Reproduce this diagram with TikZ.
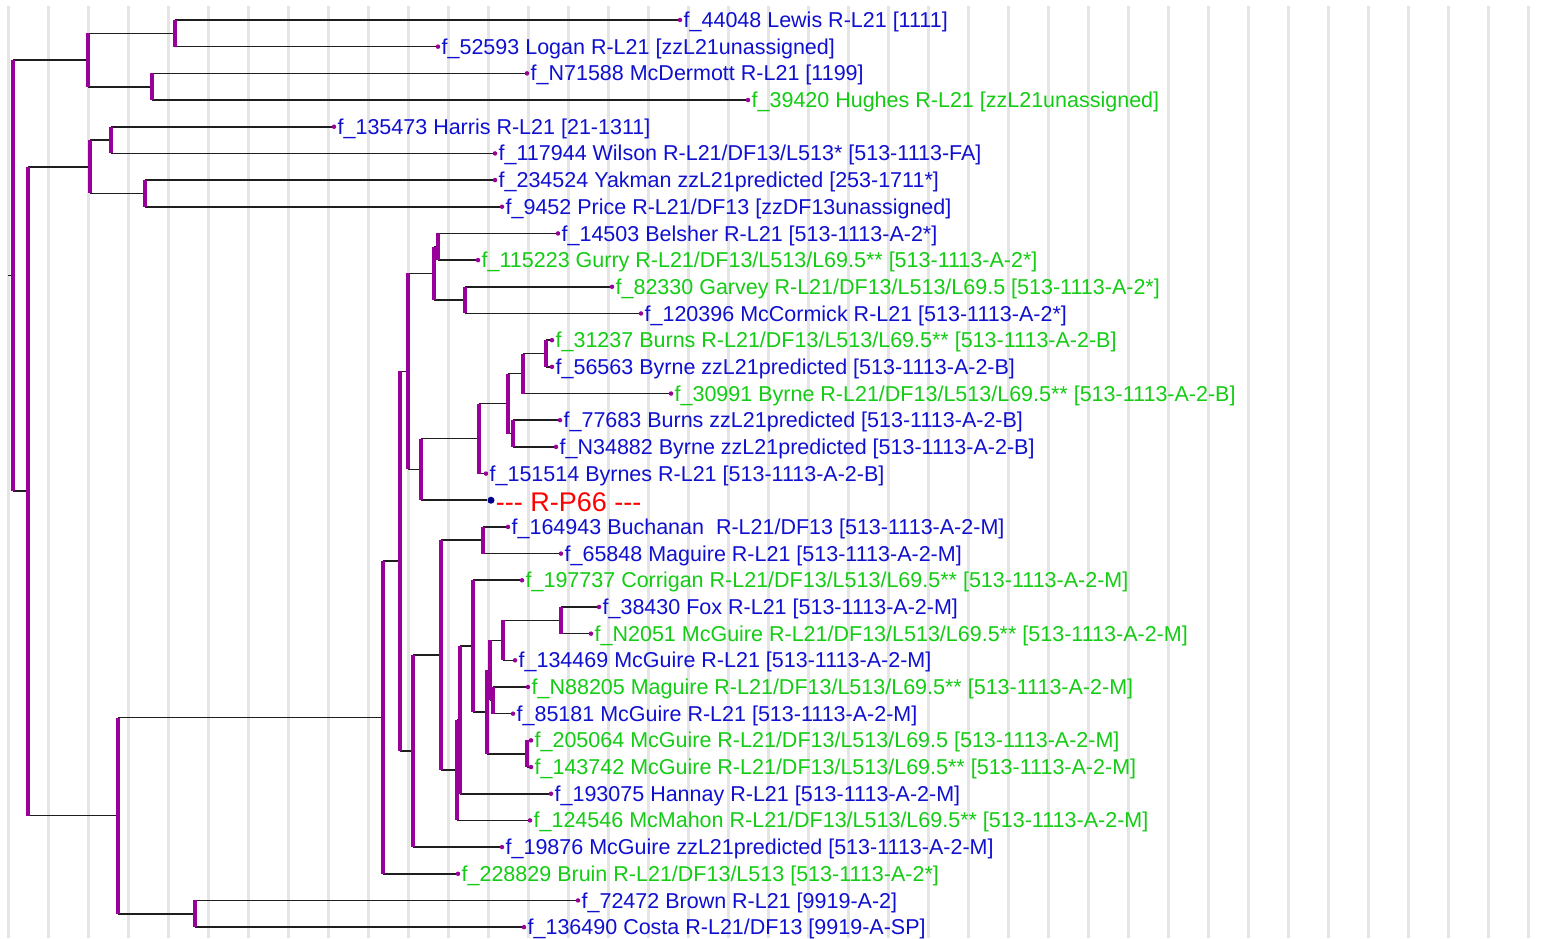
\documentclass[tikz,border=0pt]{standalone}
\usepackage{fontspec}
\setmainfont{Liberation Sans}
\usetikzlibrary{calc}

\definecolor{leafblue}{RGB}{16,16,208}
\definecolor{leafgreen}{RGB}{20,204,20}
\definecolor{treepurple}{RGB}{153,0,153}
\definecolor{armgray}{RGB}{30,30,30}
\definecolor{dotnavy}{RGB}{0,0,140}

\newcommand\leaffont{\fontsize{21.5pt}{24pt}\selectfont}
\newcommand\markfont{\fontsize{27pt}{30pt}\selectfont}

\tikzset{
  gridline/.style={line width=3pt, gray!20},
  arm/.style={line width=1.6pt, armgray},
  stem/.style={line width=3.6pt, treepurple},
  tip/.style={circle, fill=treepurple, inner sep=0pt, minimum size=4.5pt},
  leaflabel/.style={font=\leaffont, inner sep=1pt, label distance=0pt, yshift=-2pt},
}

% leaf: name, x, row, colour, text
\newcommand\leaf[5]{\node[tip, label={[leaflabel, text=#4]right:{#5}}] (#1) at (#2,#3) {};}
% fork: name, x, upper child, lower child
\newcommand\fork[4]{%
  \path let \p1=(#3), \p2=(#4) in coordinate (#1) at (#2pt,{0.5*\y1+0.5*\y2});
  \coordinate (#1-top) at (#1 |- #3);
  \coordinate (#1-bot) at (#1 |- #4);
  \draw[arm] (#1-top) -- (#3);
  \draw[arm] (#1-bot) -- (#4);
}

\begin{document}
\begin{tikzpicture}[x=1pt, y=-26.68pt]
  \path[use as bounding box, fill=white] (0,0.2504) rectangle (1562,35.408);
  \foreach \k in {0,...,38}
    \draw[gridline] (8.3+40*\k,0.475) -- (8.3+40*\k,35.408);

  \leaf{t1}{680}{1}{leafblue}{f\_44048 Lewis R-L21 [1111]}
  \leaf{t2}{438}{2}{leafblue}{f\_52593 Logan R-L21 [zzL21unassigned]}
  \leaf{t3}{527}{3}{leafblue}{f\_N71588 McDermott R-L21 [1199]}
  \leaf{t4}{748}{4}{leafgreen}{f\_39420 Hughes R-L21 [zzL21unassigned]}
  \leaf{t5}{334}{5}{leafblue}{f\_135473 Harris R-L21 [21-1311]}
  \leaf{t6}{495}{6}{leafblue}{f\_117944 Wilson R-L21/DF13/L513* [513-1113-FA]}
  \leaf{t7}{495}{7}{leafblue}{f\_234524 Yakman zzL21predicted [253-1711*]}
  \leaf{t8}{502}{8}{leafblue}{f\_9452 Price R-L21/DF13 [zzDF13unassigned]}
  \leaf{t9}{558}{9}{leafblue}{f\_14503 Belsher R-L21 [513-1113-A-2*]}
  \leaf{t10}{478}{10}{leafgreen}{f\_115223 Gurry R-L21/DF13/L513/L69.5** [513-1113-A-2*]}
  \leaf{t11}{612}{11}{leafgreen}{f\_82330 Garvey R-L21/DF13/L513/L69.5 [513-1113-A-2*]}
  \leaf{t12}{641}{12}{leafblue}{f\_120396 McCormick R-L21 [513-1113-A-2*]}
  \leaf{t13}{552}{13}{leafgreen}{f\_31237 Burns R-L21/DF13/L513/L69.5** [513-1113-A-2-B]}
  \leaf{t14}{552}{14}{leafblue}{f\_56563 Byrne zzL21predicted [513-1113-A-2-B]}
  \leaf{t15}{671}{15}{leafgreen}{f\_30991 Byrne R-L21/DF13/L513/L69.5** [513-1113-A-2-B]}
  \leaf{t16}{560}{16}{leafblue}{f\_77683 Burns zzL21predicted [513-1113-A-2-B]}
  \leaf{t17}{556}{17}{leafblue}{f\_N34882 Byrne zzL21predicted [513-1113-A-2-B]}
  \leaf{t18}{486}{18}{leafblue}{f\_151514 Byrnes R-L21 [513-1113-A-2-B]}
  \node[tip, fill=dotnavy, minimum size=7pt,
        label={[leaflabel, font=\markfont, text=red]right:{-{}-{}- R-P66 -{}-{}-}}] (rp66) at (491,19) {};
  \leaf{t20}{508}{20}{leafblue}{f\_164943 Buchanan\ \ R-L21/DF13 [513-1113-A-2-M]}
  \leaf{t21}{561}{21}{leafblue}{f\_65848 Maguire R-L21 [513-1113-A-2-M]}
  \leaf{t22}{522}{22}{leafgreen}{f\_197737 Corrigan R-L21/DF13/L513/L69.5** [513-1113-A-2-M]}
  \leaf{t23}{599}{23}{leafblue}{f\_38430 Fox R-L21 [513-1113-A-2-M]}
  \leaf{t24}{591}{24}{leafgreen}{f\_N2051 McGuire R-L21/DF13/L513/L69.5** [513-1113-A-2-M]}
  \leaf{t25}{515}{25}{leafblue}{f\_134469 McGuire R-L21 [513-1113-A-2-M]}
  \leaf{t26}{528}{26}{leafgreen}{f\_N88205 Maguire R-L21/DF13/L513/L69.5** [513-1113-A-2-M]}
  \leaf{t27}{513}{27}{leafblue}{f\_85181 McGuire R-L21 [513-1113-A-2-M]}
  \leaf{t28}{531}{28}{leafgreen}{f\_205064 McGuire R-L21/DF13/L513/L69.5 [513-1113-A-2-M]}
  \leaf{t29}{531}{29}{leafgreen}{f\_143742 McGuire R-L21/DF13/L513/L69.5** [513-1113-A-2-M]}
  \leaf{t30}{551}{30}{leafblue}{f\_193075 Hannay R-L21 [513-1113-A-2-M]}
  \leaf{t31}{530}{31}{leafgreen}{f\_124546 McMahon R-L21/DF13/L513/L69.5** [513-1113-A-2-M]}
  \leaf{t32}{502}{32}{leafblue}{f\_19876 McGuire zzL21predicted [513-1113-A-2-M]}
  \leaf{t33}{458}{33}{leafgreen}{f\_228829 Bruin R-L21/DF13/L513 [513-1113-A-2*]}
  \leaf{t34}{578}{34}{leafblue}{f\_72472 Brown R-L21 [9919-A-2]}
  \leaf{t35}{524}{35}{leafblue}{f\_136490 Costa R-L21/DF13 [9919-A-SP]}

  % inner forks, from the tips inwards
  \fork{nA}{175}{t1}{t2}
  \fork{nB}{152}{t3}{t4}
  \fork{nAB}{88}{nA}{nB}
  \fork{nC1}{111}{t5}{t6}
  \fork{nC2}{145}{t7}{t8}
  \fork{nC}{90}{nC1}{nC2}
  \fork{nK}{438}{t9}{t10}
  \fork{nL}{465}{t11}{t12}
  \fork{nI}{434}{nK}{nL}
  \fork{nQ}{546}{t13}{t14}
  \fork{nO}{523}{nQ}{t15}
  \fork{nP}{513}{t16}{t17}
  \fork{nN}{508}{nO}{nP}
  \fork{nM}{479}{nN}{t18}
  \fork{nJ}{421}{nM}{rp66}
  \fork{nH}{408}{nI}{nJ}
  \fork{nU}{483}{t20}{t21}
  \fork{nBB1}{561}{t23}{t24}
  \fork{nBB}{503}{nBB1}{t25}
  \fork{nCC}{493}{t26}{t27}
  \fork{nAA}{490}{nBB}{nCC}
  \fork{nZ}{527}{t28}{t29}
  \fork{nY}{487}{nAA}{nZ}
  \fork{nX}{473}{t22}{nY}
  \fork{nW}{460}{nX}{t30}
  \fork{nV}{457}{nW}{t31}
  \fork{nT}{441}{nU}{nV}
  \fork{nS}{413}{nT}{t32}
  \fork{nG}{400}{nH}{nS}
  \fork{nE}{383}{nG}{t33}
  \fork{nF}{195}{t34}{t35}
  \fork{nD}{118}{nE}{nF}
  \fork{nR2}{28}{nC}{nD}
  \fork{root}{13}{nAB}{nR2}
  \coordinate (gridL) at (8,0);
  \draw[arm] (gridL |- root) -- (root);

  \foreach \n in {nA,nB,nAB,nC1,nC2,nC,nK,nL,nI,nQ,nO,nP,nN,nM,nJ,nH,nU,nBB1,nBB,nCC,
                  nAA,nZ,nY,nX,nW,nV,nT,nS,nG,nE,nF,nD,nR2,root}
    \draw[stem] (\n-top) -- (\n-bot);
\end{tikzpicture}
\end{document}
